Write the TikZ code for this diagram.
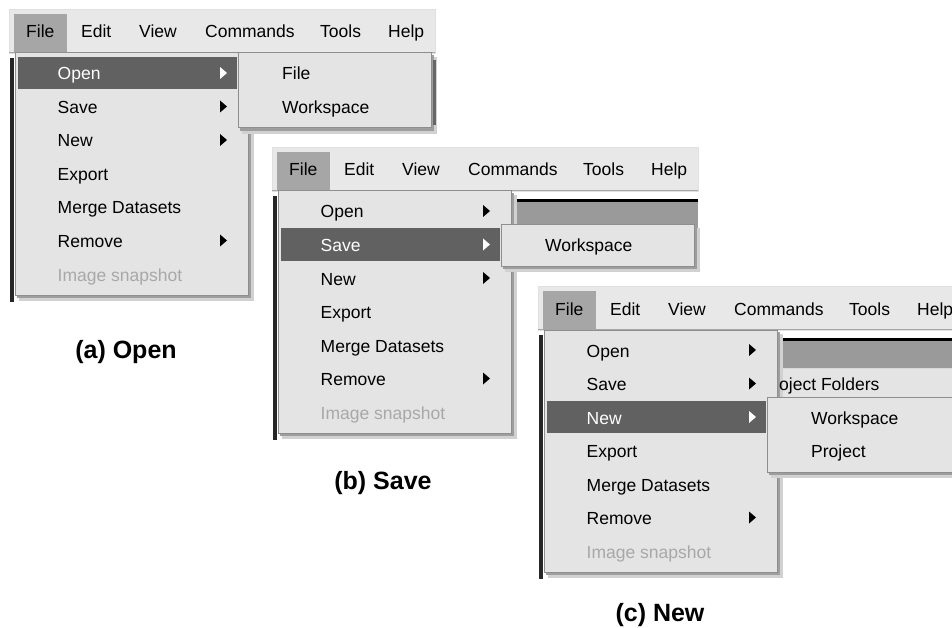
\documentclass[tikz,border=0pt]{standalone}
\usepackage{fontspec}
\setmainfont{Liberation Sans}
\definecolor{mbarc}{HTML}{E8E8E8}
\definecolor{menubg}{HTML}{E4E4E4}
\definecolor{tabc}{HTML}{A6A6A6}
\definecolor{hlc}{HTML}{616161}
\definecolor{bordc}{HTML}{8E8E8E}
\definecolor{dimc}{HTML}{A8A8A8}
\definecolor{winbar}{HTML}{9A9A9A}
\tikzset{
 mlabel/.style={anchor=base west, inner sep=0, font=\fontsize{17.5}{20}\selectfont},
 capt/.style={inner sep=0, font=\fontsize{25}{28}\selectfont\bfseries},
 menubox/.style={fill=menubg, draw=bordc, line width=1pt},
 shadowdark/.style={fill=black!38},
 shadowlight/.style={fill=black!18},
}
\newcommand\mrow[4]{%
 \ifnum#2=\hl\relax\def\rc{white}\else\def\rc{black}\fi
 \node[mlabel,text=\rc] (#1) at (42.5,{33.5*#2}) {#3};
 \ifnum#4=1\relax
  \fill[fill=\rc] (205,{33.5*#2-13}) -- (212,{33.5*#2-7}) -- (205,{33.5*#2-1}) -- cycle;
 \fi}
\newcommand\menupanel[2]{%
 \def\hl{#2}%
 % window behind the menu
 \fill[black] (233,-19) rectangle (420,-16);
 \fill[winbar] (233,-16) rectangle (420,11);
 \fill[menubg] (233,11) rectangle (420,41);
 \draw[white!70!gray] (233,11.5) -- (420,11.5);
 % menu bar
 \filldraw[fill=mbarc, draw=black!12] (-6,-71) rectangle (420,-27);
 \draw[black!35] (-6,-27.5) -- (420,-27.5);
 \fill[tabc] (-1,-66) rectangle (52,-27.5);
 \node[mlabel] (#1file) at (11,-42) {File};
 \node[mlabel] (#1edit) at (66,-42) {Edit};
 \node[mlabel] (#1view) at (124,-42) {View};
 \node[mlabel] (#1cmds) at (190,-42) {Commands};
 \node[mlabel] (#1tools) at (305,-42) {Tools};
 \node[mlabel] (#1help) at (373,-42) {Help};
 % dark frame edge at the left
 \fill[black!85] (-5,-22) rectangle (-1.5,222);
 % drop-down menu
 \fill[shadowlight] (4,-23) rectangle (239,221);
 \fill[shadowdark] (2,-25) rectangle (236,218);
 \filldraw[menubox] (0,-27) rectangle (233,215);
 \fill[hlc] (3,{33.5*#2-23}) rectangle (222,{33.5*#2+9});
 \mrow{#1open}{0}{Open}{1}
 \mrow{#1save}{1}{Save}{1}
 \mrow{#1new}{2}{New}{1}
 \mrow{#1export}{3}{Export}{0}
 \mrow{#1merge}{4}{Merge Datasets}{0}
 \mrow{#1remove}{5}{Remove}{1}
 \node[mlabel,text=dimc] (#1snap) at (42.5,{33.5*6}) {Image snapshot};
}
\newcommand\submenu[2]{% #1 row, #2 number of items
 \fill[shadowlight] (227,{33.5*#1-23}) rectangle (422,{33.5*#1-27+8+33.5*#2+6});
 \fill[shadowdark] (225,{33.5*#1-25}) rectangle (419,{33.5*#1-27+8+33.5*#2+3});
 \filldraw[menubox] (223,{33.5*#1-27}) rectangle (416,{33.5*#1-27+8+33.5*#2});
}
\begin{document}
\begin{tikzpicture}[x=1pt,y=-1pt]
\useasboundingbox (0,0) rectangle (952,628);
\clip (0,0) rectangle (952,628);
\fill[white] (0,0) rectangle (952,628);

% (a) Open
\begin{scope}[shift={(15,80)}]
 \menupanel{a}{0}
 \submenu{0}{2}
 \fill[black!60] (417.5,-20) rectangle (420.5,45);
 \node[mlabel] (asubfile) at (267,0) {File};
 \node[mlabel] (asubws) at (267,33.5) {Workspace};
\end{scope}
\node[capt] (capa) at (126,352) {(a) Open};

% (b) Save
\begin{scope}[shift={(278,218)}]
 \menupanel{b}{1}
 \submenu{1}{1}
 \node[mlabel] (bsubws) at (267,33.5) {Workspace};
\end{scope}
\node[capt] (capb) at (383,483) {(b) Save};

% (c) New
\begin{scope}[shift={(544,357)}]
 \menupanel{c}{2}
 \node[mlabel] (cfolders) at (235,33.5) {oject Folders};
 \submenu{2}{2}
 \node[mlabel] (csubws) at (267,67) {Workspace};
 \node[mlabel] (csubproj) at (267,100.5) {Project};
\end{scope}
\node[capt] (capc) at (660,615) {(c) New};
\end{tikzpicture}
\end{document}
